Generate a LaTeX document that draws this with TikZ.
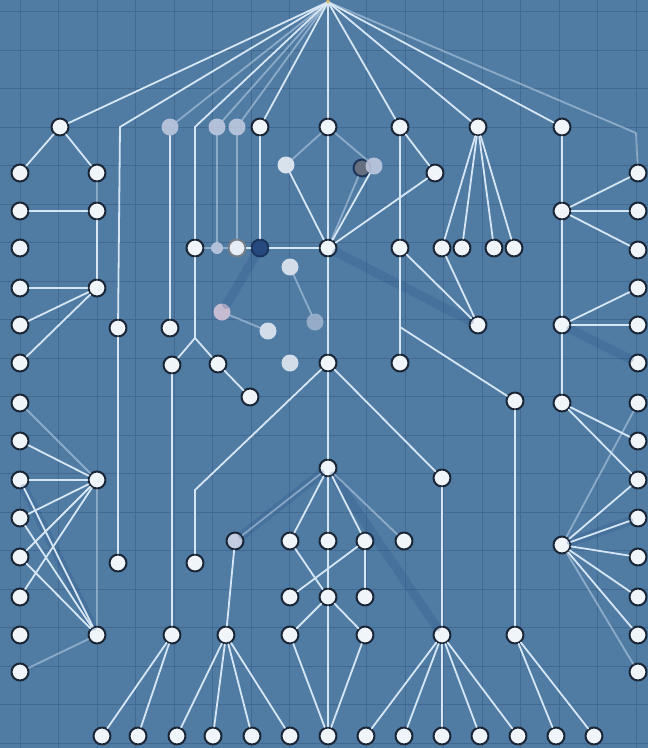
\documentclass[tikz,border=0pt]{standalone}
\usepackage{tikz}
\usepackage{xcolor}
\definecolor{bgblue}{RGB}{80,124,164}
\definecolor{gridblue}{RGB}{66,105,145}
\definecolor{wire}{RGB}{214,230,245}
\definecolor{rim}{RGB}{26,38,54}
\definecolor{pale}{RGB}{240,245,250}
\definecolor{ghostgray}{RGB}{196,204,226}
\definecolor{deepblue}{RGB}{38,74,128}
\definecolor{spark}{RGB}{214,190,110}

\begin{document}
\begin{tikzpicture}[x=1pt,y=-1pt, line cap=round, line join=round]

\tikzset{
  dot/.style={circle, draw=rim, fill=pale, line width=2pt, minimum size=17pt, inner sep=0pt},
  ghost/.style={circle, fill=ghostgray, minimum size=17pt, inner sep=0pt, opacity=0.85},
  darkdot/.style={dot, fill=deepblue, draw=deepblue!70!black},
  link/.style={draw=wire, line width=1.8pt},
  faint/.style={link, opacity=0.45},
  shade/.style={draw=deepblue, line width=9pt, opacity=0.22}
}

\fill[bgblue] (0,0) rectangle (648,748);
\useasboundingbox (0,0) rectangle (648,748);
\begin{scope}[x=1pt, y=1pt, shift={(20pt,-127pt)}]
\draw[gridblue, line width=0.8pt, step=38.5] (-40,-640) grid (640,140);
\end{scope}

% top row
\node[circle, fill=spark, minimum size=4pt, inner sep=0pt] (top) at (328,2) {};
\node[dot] (t1) at (60,127) {};
\node[ghost] (g1) at (170,127) {};
\node[ghost] (g2) at (217,127) {};
\node[ghost] (g3) at (237,127) {};
\node[dot] (t2) at (260,127) {};
\node[dot] (t3) at (328,127) {};
\node[dot] (t4) at (400,127) {};
\node[dot] (t5) at (478,127) {};
\node[dot] (t6) at (562,127) {};
\coordinate (k1) at (120,127);
\coordinate (k2) at (195,127);
\coordinate (k3) at (636,133);

% left column
\node[dot] (L1) at (20,173) {};
\node[dot] (L2) at (20,211) {};
\node[dot] (L3) at (20,248) {};
\node[dot] (L4) at (20,288) {};
\node[dot] (L5) at (20,325) {};
\node[dot] (L6) at (20,363) {};
\node[dot] (L7) at (20,403) {};
\node[dot] (L8) at (20,441) {};
\node[dot] (L9) at (20,480) {};
\node[dot] (L10) at (20,518) {};
\node[dot] (L11) at (20,557) {};
\node[dot] (L12) at (20,597) {};
\node[dot] (L13) at (20,635) {};
\node[dot] (L14) at (20,672) {};

% right column
\node[dot] (R1) at (638,173) {};
\node[dot] (R2) at (638,211) {};
\node[dot] (R3) at (638,250) {};
\node[dot] (R4) at (638,288) {};
\node[dot] (R5) at (638,325) {};
\node[dot] (R6) at (638,363) {};
\node[dot] (R7) at (638,403) {};
\node[dot] (R8) at (638,441) {};
\node[dot] (R9) at (638,480) {};
\node[dot] (R10) at (638,518) {};
\node[dot] (R11) at (638,557) {};
\node[dot] (R12) at (638,597) {};
\node[dot] (R13) at (638,635) {};
\node[dot] (R14) at (638,672) {};

% inner nodes
\node[dot] (m1) at (97,173) {};
\node[dot] (m2) at (97,211) {};
\node[dot] (m3) at (97,288) {};
\node[dot] (m4) at (97,480) {};
\node[dot] (m5) at (97,635) {};
\node[dot] (v1) at (118,328) {};
\node[dot] (v2) at (118,563) {};

\node[dot] (c1) at (195,248) {};
\node[ghost, minimum size=12pt] (c2) at (217,248) {};
\node[dot, fill=pale!80!ghostgray, draw=rim!60] (c3) at (237,248) {};
\node[darkdot] (c4) at (260,248) {};
\node[dot] (h1) at (328,248) {};

\node[ghost, fill=pale] (p1) at (286,165) {};
\node[darkdot, fill=gray!70!deepblue] (p2) at (362,168) {};
\node[ghost] (p3) at (374,166) {};
\node[dot] (q1) at (435,173) {};

\node[dot] (s1) at (400,248) {};
\node[dot] (s2) at (442,248) {};
\node[dot] (s3) at (462,248) {};
\node[dot] (s4) at (494,248) {};
\node[dot] (s5) at (514,248) {};
\node[dot] (n1) at (562,211) {};

\node[ghost, fill=pale!85!ghostgray] (u1) at (290,267) {};
\node[dot] (d1) at (170,328) {};
\node[ghost, fill=ghostgray!80!purple!60!white] (d2) at (222,312) {};
\node[ghost, fill=pale!85!ghostgray] (d3) at (268,331) {};
\node[ghost, opacity=0.6] (d4) at (315,322) {};
\node[dot] (d5) at (478,325) {};
\node[dot] (n2) at (562,325) {};

\coordinate (k4) at (195,338);
\node[dot] (e1) at (172,365) {};
\node[dot] (e2) at (218,364) {};
\node[ghost, fill=pale!85!ghostgray] (e3) at (290,363) {};
\node[dot] (h2) at (328,363) {};
\node[dot] (s6) at (400,363) {};
\coordinate (k6) at (400,327);
\node[dot] (e4) at (250,397) {};
\node[dot] (w1) at (515,401) {};
\node[dot] (n3) at (562,403) {};

\node[dot] (h3) at (328,468) {};
\node[dot] (x1) at (442,478) {};
\coordinate (k5) at (195,490);
\node[dot, fill=ghostgray] (i1) at (235,541) {};
\node[dot] (i2) at (290,541) {};
\node[dot] (i3) at (328,541) {};
\node[dot] (i4) at (365,541) {};
\node[dot] (i5) at (404,541) {};
\node[dot] (n4) at (562,545) {};
\node[dot] (y1) at (195,563) {};

\node[dot] (j1) at (290,597) {};
\node[dot] (j2) at (328,597) {};
\node[dot] (j3) at (365,597) {};

\node[dot] (b1) at (172,635) {};
\node[dot] (b2) at (226,635) {};
\node[dot] (b3) at (290,635) {};
\node[dot] (b4) at (365,635) {};
\node[dot] (b5) at (442,635) {};
\node[dot] (b6) at (515,635) {};

% bottom row
\node[dot] (z1) at (102,736) {};
\node[dot] (z2) at (138,736) {};
\node[dot] (z3) at (177,736) {};
\node[dot] (z4) at (213,736) {};
\node[dot] (z5) at (252,736) {};
\node[dot] (z6) at (290,736) {};
\node[dot] (z7) at (328,736) {};
\node[dot] (z8) at (366,736) {};
\node[dot] (z9) at (404,736) {};
\node[dot] (z10) at (442,736) {};
\node[dot] (z11) at (480,736) {};
\node[dot] (z12) at (518,736) {};
\node[dot] (z13) at (556,736) {};
\node[dot] (z14) at (594,736) {};

% dark streaks
\draw[shade] (c4) -- (d2);
\draw[shade] (h1) -- (d5);
\draw[shade] (h3) -- (b5);
\draw[shade] (n2) -- (R6);
\draw[shade] (L9) -- (m5);
\draw[shade] (h3) -- (i1);
\draw[shade] (n4) -- (R10);

% from the top
\draw[link] (top) -- (t1);
\draw[link] (top) -- (k1) -- (v1);
\draw[link] (v1) -- (v2);
\draw[faint] (top) -- (g1);
\draw[link] (top) -- (k2) -- (c1);
\draw[faint] (top) -- (g2);
\draw[faint] (top) -- (g3);
\draw[link] (top) -- (t2);
\draw[link] (top) -- (t3);
\draw[link] (top) -- (t4);
\draw[link] (top) -- (t5);
\draw[link] (top) -- (t6);
\draw[faint] (top) -- (k3) -- (R1);

% left side
\draw[link] (t1) -- (L1);
\draw[link] (t1) -- (m1);
\draw[faint] (m1) -- (m2);
\draw[link] (L2) -- (m2);
\draw[link] (m2) -- (m3);
\draw[link] (m3) -- (L4);
\draw[link] (m3) -- (L5);
\draw[link] (m3) -- (L6);
\draw[faint] (m4) -- (L7);
\draw[link] (m4) -- (L8);
\draw[link] (m4) -- (L9);
\draw[link] (m4) -- (L10);
\draw[link] (m4) -- (L11);
\draw[link] (m4) -- (L12);
\draw[link] (m5) -- (L9);
\draw[link] (m5) -- (L10);
\draw[link] (m5) -- (L11);
\draw[faint] (m5) -- (L14);
\draw[faint] (m4) -- (m5);

% middle top
\draw[link] (g1) -- (d1);
\draw[faint] (g2) -- (c2);
\draw[faint] (g3) -- (c3);
\draw[link] (t2) -- (c4);
\draw[faint] (c1) -- (c2);
\draw[faint] (c2) -- (c3);
\draw[link] (c3) -- (c4);
\draw[link] (c4) -- (h1);
\draw[link] (t3) -- (h1);
\draw[faint] (t3) -- (p1);
\draw[faint] (t3) -- (p3);
\draw[link] (p1) -- (h1);
\draw[faint] (p2) -- (h1);
\draw[link] (p3) -- (h1);
\draw[faint] (d2) -- (d3);
\draw[faint] (u1) -- (d4);
\draw[link] (t4) -- (q1);
\draw[link] (q1) -- (h1);
\draw[link] (t4) -- (s1);
\draw[link] (s1) -- (s6);
\draw[link] (k6) -- (w1);
\draw[link] (s1) -- (d5);
\draw[link] (s2) -- (d5);
\draw[link] (t5) -- (s2);
\draw[link] (t5) -- (s3);
\draw[link] (t5) -- (s4);
\draw[link] (t5) -- (s5);

% right side
\draw[link] (t6) -- (n1);
\draw[link] (n1) -- (R1);
\draw[link] (n1) -- (R2);
\draw[link] (n1) -- (R3);
\draw[link] (n1) -- (n2);
\draw[link] (n2) -- (R4);
\draw[link] (n2) -- (R5);
\draw[link] (n2) -- (n3);
\draw[link] (n3) -- (R8);
\draw[link] (n3) -- (R9);
\draw[faint] (n4) -- (R7);
\draw[link] (n4) -- (R9);
\draw[link] (n4) -- (R10);
\draw[link] (n4) -- (R11);
\draw[link] (n4) -- (R12);
\draw[link] (n4) -- (R13);
\draw[faint] (n4) -- (R14);

% centre trunk
\draw[link] (h1) -- (h2);
\draw[link] (h2) -- (h3);
\draw[link] (c1) -- (k4);
\draw[link] (k4) -- (e1);
\draw[link] (k4) -- (e2);
\draw[link] (e2) -- (e4);
\draw[link] (e1) -- (b1);
\draw[link] (h2) -- (k5) -- (y1);
\draw[link] (h2) -- (x1);
\draw[link] (x1) -- (b5);
\draw[link] (w1) -- (b6);

% lower cluster
\draw[faint] (h3) -- (i1);
\draw[link] (h3) -- (i2);
\draw[link] (h3) -- (i3);
\draw[link] (h3) -- (i4);
\draw[faint] (h3) -- (i5);
\draw[link] (i1) -- (b2);
\draw[link] (i2) -- (j2);
\draw[link] (i3) -- (j2);
\draw[link] (i4) -- (j1);
\draw[link] (i4) -- (j3);
\draw[link] (j2) -- (b3);
\draw[link] (j2) -- (b4);
\draw[link] (j2) -- (z7);
\draw[link] (b3) -- (z7);
\draw[link] (b4) -- (z7);

% bottom fans
\draw[link] (b1) -- (z1);
\draw[link] (b1) -- (z2);
\draw[link] (b2) -- (z3);
\draw[link] (b2) -- (z4);
\draw[link] (b2) -- (z5);
\draw[link] (b2) -- (z6);
\draw[link] (b5) -- (z8);
\draw[link] (b5) -- (z9);
\draw[link] (b5) -- (z10);
\draw[link] (b5) -- (z11);
\draw[link] (b5) -- (z12);
\draw[link] (b6) -- (z13);
\draw[link] (b6) -- (z14);

\end{tikzpicture}
\end{document}
